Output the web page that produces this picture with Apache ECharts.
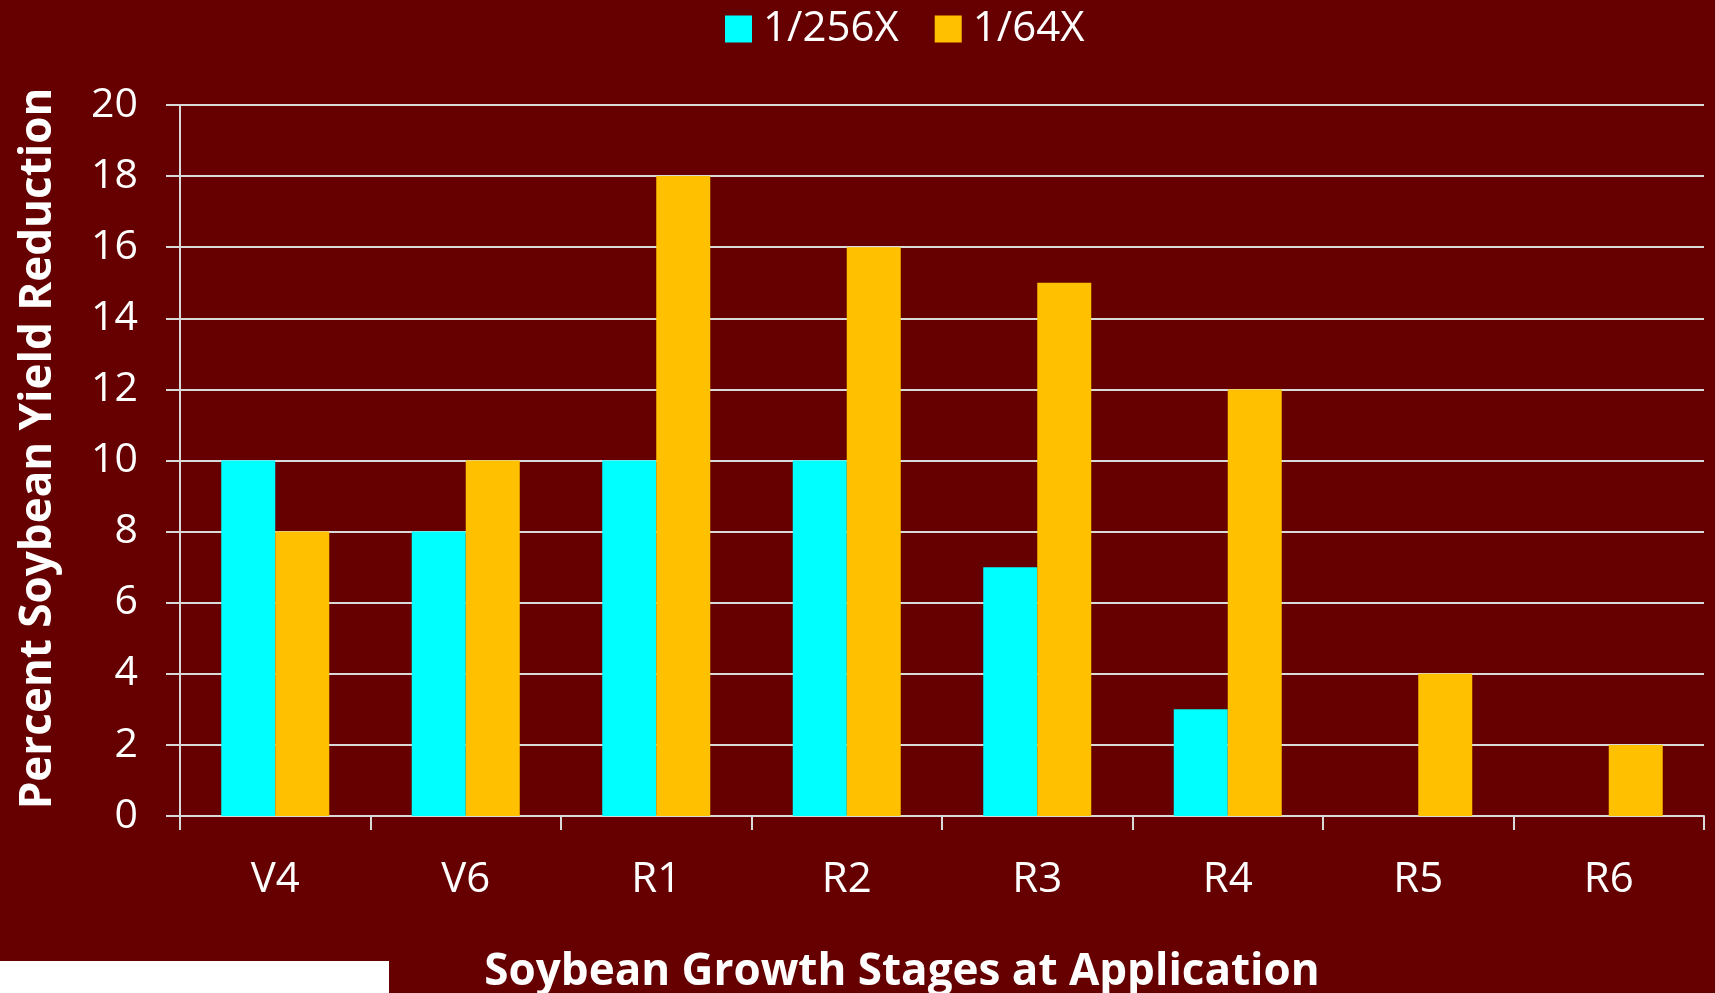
<!DOCTYPE html>
<html>
<head>
<meta charset="utf-8">
<script src="https://cdn.jsdelivr.net/npm/echarts@6/dist/echarts.min.js"></script>
<style>
  html, body { margin: 0; padding: 0; background: #660000; }
  #main { width: 1715px; height: 993px; }
</style>
</head>
<body>
<div id="main"></div>
<script>
var stages = ['V4', 'V6', 'R1', 'R2', 'R3', 'R4', 'R5', 'R6'];
var rate256 = [10, 8, 10, 10, 7, 3, 0, 0];
var rate64 = [8, 10, 18, 16, 15, 12, 4, 2];
var seriesNames = ['1/256X', '1/64X'];

var chart = echarts.init(document.getElementById('main'));

var gridColor = '#d9d9d9';

chart.setOption({
  backgroundColor: '#660000',
  textStyle: { fontFamily: 'Open Sans' },
  legend: {
    data: seriesNames,
    left: 720,
    top: 3,
    itemWidth: 27,
    itemHeight: 27,
    itemGap: 36,
    icon: 'rect',
    textStyle: { color: '#ffffff', fontSize: 42, fontFamily: 'Open Sans', padding: [0, 0, 0, 6] }
  },
  grid: {
    left: 180,
    right: 11,
    top: 105,
    bottom: 177,
    outerBoundsMode: 'none'
  },
  xAxis: {
    type: 'category',
    data: stages,
    name: 'Soybean Growth Stages at Application',
    nameLocation: 'middle',
    nameGap: 134,
    nameTextStyle: { color: '#ffffff', fontSize: 44, fontWeight: 'bold', padding: [0, 80, 0, 0] },
    axisLine: { lineStyle: { color: gridColor, width: 2 } },
    axisTick: { show: true, length: 14, lineStyle: { color: gridColor, width: 2 } },
    axisLabel: { color: '#ffffff', fontSize: 42, margin: 43 }
  },
  yAxis: {
    type: 'value',
    min: 0,
    max: 20,
    interval: 2,
    name: 'Percent Soybean Yield Reduction',
    nameLocation: 'middle',
    nameGap: 120,
    nameTextStyle: { color: '#ffffff', fontSize: 44, fontWeight: 'bold', padding: [0, 0, 0, 24] },
    axisLine: { show: true, lineStyle: { color: gridColor, width: 2 } },
    axisTick: { show: true, length: 14, lineStyle: { color: gridColor, width: 2 } },
    splitLine: { lineStyle: { color: gridColor, width: 2 } },
    axisLabel: { color: '#ffffff', fontSize: 41, margin: 42 }
  },
  series: [
    {
      name: seriesNames[0],
      type: 'bar',
      data: rate256,
      barWidth: 54,
      barGap: '0%',
      itemStyle: { color: '#00ffff' }
    },
    {
      name: seriesNames[1],
      type: 'bar',
      data: rate64,
      barWidth: 54,
      barGap: '0%',
      itemStyle: { color: '#ffc000' }
    }
  ],
  graphic: [
    {
      type: 'rect',
      left: 0,
      top: 961,
      shape: { width: 389, height: 32 },
      style: { fill: '#ffffff' },
      z: 10
    }
  ]
});
</script>
</body>
</html>
